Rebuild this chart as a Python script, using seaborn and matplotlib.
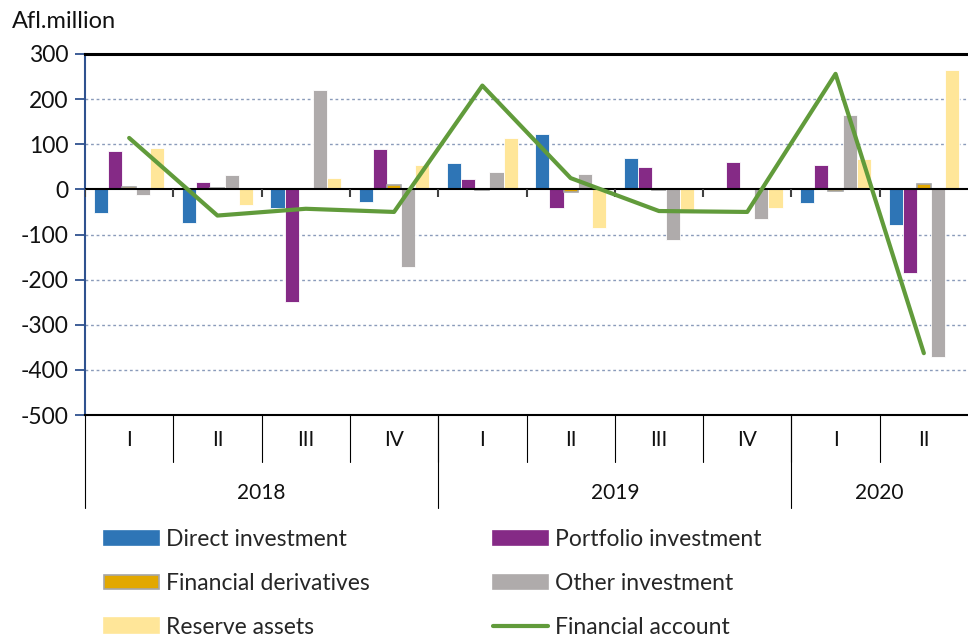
import numpy as np
import pandas as pd
import seaborn as sns
import matplotlib.pyplot as plt
import matplotlib.transforms as mtransforms
from matplotlib.patches import Patch
from matplotlib.lines import Line2D

# ---------------- data ----------------
years = ["2018", "2019", "2020"]
year_counts = [4, 4, 2]
quarter_labels = ["I", "II", "III", "IV", "I", "II", "III", "IV", "I", "II"]

series_names = ["Direct investment", "Portfolio investment", "Financial derivatives",
                "Other investment", "Reserve assets"]
direct = [-52, -75, -41, -28, 58, 123, 70, 1, -30, -78]
portfolio = [84, 16, -250, 89, 23, -41, 49, 60, 53, -185]
derivatives = [5, 4, 0, 10, -1, -5, -1, 0, -3, 12]
other = [-12, 32, 221, -173, 38, 33, -112, -66, 165, -372]
reserve = [91, -35, 25, 53, 113, -86, -53, -42, 67, 265]
financial_account = [114, -58, -43, -50, 230, 25, -48, -50, 256, -363]
line_name = "Financial account"

colors = ["#2E75B6", "#852A86", "#E2A800", "#AFABAB", "#FFE699"]
line_color = "#619B3B"

# ---------------- build table ----------------
period_years = [y for y, c in zip(years, year_counts) for _ in range(c)]
periods = [f"{y} {q}" for y, q in zip(period_years, quarter_labels)]
values = [direct, portfolio, derivatives, other, reserve]
df = pd.DataFrame([
    {"period": p, "series": s, "value": v}
    for s, vals in zip(series_names, values)
    for p, v in zip(periods, vals)
])

# ---------------- plot ----------------
sns.set_theme(style="white")
plt.rcParams['font.family'] = ['Lato', 'DejaVu Sans']

fig = plt.figure(figsize=(9.68, 6.36), dpi=100)
ax = fig.add_axes([85 / 968, 1 - 415 / 636, 1 - 85 / 968, (415 - 54) / 636])

sns.barplot(data=df, x="period", y="value", hue="series", order=periods,
            hue_order=series_names, palette=colors, saturation=1, ax=ax,
            legend=False, edgecolor="white", linewidth=0.6, zorder=3)
for bar in ax.containers[2]:
    bar.set_edgecolor("#A6A6A6")
    bar.set_linewidth(1.2)

sns.lineplot(x=np.arange(len(periods)), y=financial_account, color=line_color,
             linewidth=3, ax=ax, zorder=5)

ax.set_xlim(-0.5, len(periods) - 0.5)
ax.set_ylim(-500, 300)
ax.set_yticks(range(-500, 301, 100))
ax.set_yticklabels([str(v) for v in range(-500, 301, 100)])
ax.set_xticks([])
ax.set_xlabel("")
ax.set_ylabel("")

for y in range(-400, 201, 100):
    if y != 0:
        ax.axhline(y, color="#8A9BBA", lw=1.0, ls=(0, (2, 2)), zorder=1)
ax.axhline(0, color="black", lw=1.5, zorder=4)

# small ticks on the zero line at category boundaries
bounds = np.arange(-0.5, len(periods) - 0.5, 1.0)
ax.vlines(bounds, -16, 0, color="#404040", lw=1.5, zorder=4)

ax.spines["right"].set_visible(False)
ax.spines["top"].set_color("black")
ax.spines["top"].set_linewidth(2.2)
ax.spines["bottom"].set_color("black")
ax.spines["bottom"].set_linewidth(1.5)
ax.spines["left"].set_color("#2F528F")
ax.spines["left"].set_linewidth(1.5)
ax.tick_params(axis="y", left=True, length=7, width=1.3, color="#2F528F",
               labelsize=16.5, pad=5, labelcolor="#111111")

# multi-level category axis
trans = mtransforms.blended_transform_factory(ax.transData, ax.transAxes)
ax_h = 415 - 54
q_row = -(462 - 415) / ax_h
y_row = -(508 - 415) / ax_h
for i, q in enumerate(quarter_labels):
    ax.text(i, -(440 - 415) / ax_h, q, transform=trans, ha="center", va="center",
            fontsize=15, color="#111111")
start = 0
year_edges = [-0.5]
for y, c in zip(years, year_counts):
    ax.text(start + (c - 1) / 2, -(493 - 415) / ax_h, y, transform=trans,
            ha="center", va="center", fontsize=15, color="#111111")
    start += c
    year_edges.append(start - 0.5)
for b in np.arange(0.5, len(periods) - 0.5, 1.0):
    ax.plot([b, b], [0, q_row], transform=trans, color="black", lw=0.8, clip_on=False)
for b in year_edges[:-1]:
    ax.plot([b, b], [0, y_row], transform=trans, color="black", lw=0.8, clip_on=False)

fig.text(12 / 968, 1 - 22 / 636, "Afl.million", ha="left", va="center",
         fontsize=17, color="#111111")

# legend
handles = []
for name, col in zip(series_names, colors):
    ec = "#A6A6A6" if name == "Financial derivatives" else col
    handles.append(Patch(facecolor=col, edgecolor=ec, linewidth=1.2, label=name))
handles.append(Line2D([0], [0], color=line_color, lw=3, label=line_name))
order = [0, 2, 4, 1, 3, 5]
fig.legend([handles[i] for i in order], [handles[i].get_label() for i in order],
           ncol=2, loc="upper left", bbox_to_anchor=(104 / 968, 1 - 529 / 636),
           frameon=False, fontsize=16.5, handlelength=2.4, handleheight=0.6,
           handletextpad=0.3, columnspacing=5.4, labelspacing=1.0,
           borderpad=0, borderaxespad=0)

fig.savefig("out.png", dpi=100)
